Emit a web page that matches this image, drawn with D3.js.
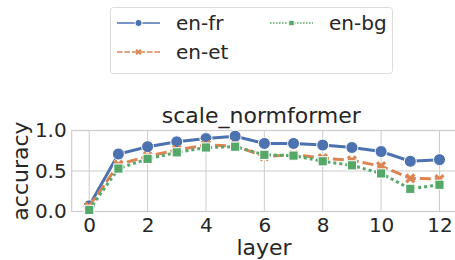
<!DOCTYPE html>
<html><head><meta charset="utf-8">
<script src="https://cdn.jsdelivr.net/npm/d3@7"></script>
<style>body{margin:0;background:#fff}svg{display:block;font-family:"DejaVu Sans",sans-serif}</style>
</head><body><svg id="c" width="455" height="260"></svg>
<script>
const layers = [0,1,2,3,4,5,6,7,8,9,10,11,12];
const enFr = [0.07,0.71,0.80,0.86,0.90,0.93,0.84,0.84,0.82,0.79,0.74,0.62,0.64];
const enEt = [0.06,0.58,0.68,0.76,0.82,0.81,0.68,0.70,0.66,0.63,0.56,0.41,0.40];
const enBg = [0.02,0.53,0.65,0.73,0.79,0.80,0.70,0.69,0.62,0.57,0.47,0.28,0.33];
const xTicks = [0,2,4,6,8,10,12];
const yTicks = [0.0,0.5,1.0];
const seriesNames = ["en-fr","en-et","en-bg"];
const colors = ["#4c72b0","#dd8452","#55a868"];
const title = "scale_normformer";

const svg = d3.select("#c");
const L=71.7, R=457, T=130.5, B=211.5;
const x = d3.scaleLinear().domain([-0.6,12.6]).range([L,R]);
const y = d3.scaleLinear().domain([0,1]).range([B,T]);

const grid = svg.append("g");
xTicks.forEach(t=>grid.append("line").attr("x1",x(t)).attr("x2",x(t)).attr("y1",T).attr("y2",B).attr("stroke","#cccccc").attr("stroke-width",1));
yTicks.forEach(t=>grid.append("line").attr("x1",L).attr("x2",R).attr("y1",y(t)).attr("y2",y(t)).attr("stroke","#cccccc").attr("stroke-width",1));
svg.append("rect").attr("x",L).attr("y",T).attr("width",R-L).attr("height",B-T).attr("fill","none").attr("stroke","#cccccc").attr("stroke-width",1.2);

const xAxis = svg.append("g").attr("transform",`translate(0,${B})`).call(d3.axisBottom(x).tickValues(xTicks).tickSize(0).tickPadding(6).tickFormat(d3.format("d")));
xAxis.select(".domain").remove();
xAxis.selectAll("text").attr("font-size",20).attr("fill","#262626").attr("font-family","DejaVu Sans");
const yAxis = svg.append("g").attr("transform",`translate(${L},0)`).call(d3.axisLeft(y).tickValues(yTicks).tickSize(0).tickPadding(5).tickFormat(d3.format(".1f")));
yAxis.select(".domain").remove();
yAxis.selectAll("text").attr("font-size",20).attr("fill","#262626").attr("font-family","DejaVu Sans");

svg.append("text").attr("x",(L+455)/2-2).attr("y",123).attr("text-anchor","middle").attr("font-size",22).attr("fill","#262626").text(title);
svg.append("text").attr("x",264).attr("y",255).attr("text-anchor","middle").attr("font-size",22).attr("fill","#262626").text("layer");
svg.append("text").attr("transform","translate(28,171) rotate(-90)").attr("text-anchor","middle").attr("font-size",22).attr("fill","#262626").text("accuracy");

const data = [enFr,enEt,enBg];
const dashes = [null,"11,4","3,3"];
const line = d3.line().x((d,i)=>x(layers[i])).y(d=>y(d));
function marker(g,k,cx,cy,s){
  if(k===0) g.append("circle").attr("cx",cx).attr("cy",cy).attr("r",6*s).attr("fill",colors[0]).attr("stroke","#fff").attr("stroke-width",1);
  else if(k===1){
    const p=d3.symbol().type(d3.symbolX).size(110*s*s)();
    g.append("path").attr("d",p).attr("transform",`translate(${cx},${cy})`).attr("fill",colors[1]).attr("stroke","#fff").attr("stroke-width",1);
    g.append("path").attr("d","M-4,-4L4,4M-4,4L4,-4").attr("transform",`translate(${cx},${cy}) scale(${s})`).attr("stroke",colors[1]).attr("stroke-width",3.2).attr("fill","none");
  } else g.append("rect").attr("x",cx-4.6*s).attr("y",cy-4.6*s).attr("width",9.2*s).attr("height",9.2*s).attr("fill",colors[2]).attr("stroke","#fff").attr("stroke-width",1);
}
const plot = svg.append("g");
data.forEach((vals,k)=>{
  const g = plot.append("g");
  g.append("path").attr("d",line(vals)).attr("fill","none").attr("stroke",colors[k]).attr("stroke-width",3).attr("stroke-dasharray",dashes[k]);
  vals.forEach((v,i)=>marker(g,k,x(layers[i]),y(v),1));
});

// legend
const lg = svg.append("g");
lg.append("rect").attr("x",110.5).attr("y",7.5).attr("width",282).attr("height",66).attr("rx",3).attr("fill","#fff").attr("stroke","#dddddd").attr("stroke-width",1);
const pos = [[117,23],[117,52],[270,23]];
seriesNames.forEach((n,k)=>{
  const [lx,ly]=pos[k];
  lg.append("line").attr("x1",lx).attr("x2",lx+43).attr("y1",ly).attr("y2",ly).attr("stroke",colors[k]).attr("stroke-width",1.5).attr("stroke-dasharray",k===1?"5.5,2":k===2?"1.5,1.5":null);
  marker(lg,k,lx+21.5,ly,0.6);
  lg.append("text").attr("x",lx+59).attr("y",ly+7).attr("font-size",20).attr("fill","#262626").text(n);
});
</script></body></html>
